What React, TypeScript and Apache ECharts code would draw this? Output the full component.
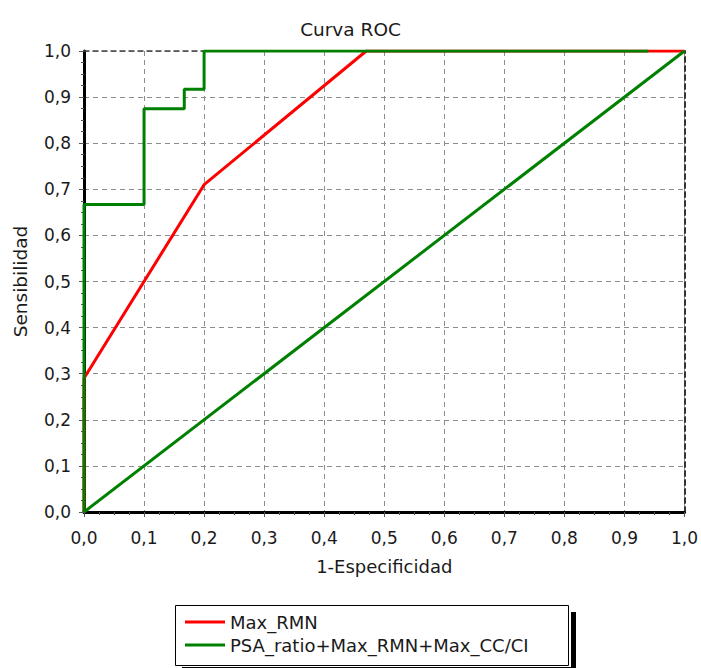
import React, { useEffect, useRef } from "react";
import * as echarts from "echarts";

const redX = [0, 0, 0.2, 0.47, 1];
const redY = [0, 0.29, 0.71, 1.0, 1.0];
const greenX = [0, 0, 0.1, 0.1, 0.167, 0.167, 0.2, 0.2, 0.94];
const greenY = [0, 0.667, 0.667, 0.875, 0.875, 0.917, 0.917, 1.0, 1.0];
const diagX = [0, 1];
const diagY = [0, 1];
const seriesNames = ["Max_RMN", "PSA_ratio+Max_RMN+Max_CC/CI"];
const titleText = "Curva ROC";
const xName = "1-Especificidad";
const yName = "Sensibilidad";

const FONT = "'DejaVu Sans', 'Liberation Sans', Arial, sans-serif";
const fmt = (v: number) => v.toFixed(1).replace(".", ",");
const zip = (xs: number[], ys: number[]) => xs.map((x, i) => [x, ys[i]]);

export default function App() {
  const ref = useRef<HTMLDivElement>(null);
  useEffect(() => {
    if (!ref.current) return;
    const chart = echarts.init(ref.current, null, { renderer: "svg" });
    const baseAxis = {
      type: "value" as const,
      min: 0,
      max: 1,
      interval: 0.1,
    };
    chart.setOption({
      animation: false,
      backgroundColor: "#ffffff",
      textStyle: { fontFamily: FONT },
      title: {
        text: titleText,
        left: "center",
        top: 15,
        textStyle: { fontSize: 18.5, fontWeight: "normal", color: "#1a1a1a", fontFamily: FONT },
      },
      grid: { left: 84, right: 15, top: 51, bottom: 156 },
      xAxis: [
        {
          ...baseAxis,
          position: "bottom",
          name: xName,
          nameLocation: "middle",
          nameGap: 45,
          nameTextStyle: { fontSize: 18, color: "#1a1a1a", fontFamily: FONT },
          axisLine: { show: true, onZero: false, lineStyle: { color: "#000", width: 3 } },
          axisTick: { show: true, length: 5, lineStyle: { color: "#555", width: 1 } },
          minorTick: { show: true, splitNumber: 4, length: 3, lineStyle: { color: "#555" } },
          axisLabel: { formatter: fmt, fontSize: 17, color: "#1a1a1a", margin: 17, fontFamily: FONT },
          splitLine: { show: true, lineStyle: { color: "#8c8c8c", type: [5, 4], width: 1 } },
        },
        {
          ...baseAxis,
          position: "top",
          axisLine: { show: true, onZero: false, lineStyle: { color: "#444", width: 1.5, type: [5, 4] } },
          axisTick: { show: false },
          axisLabel: { show: false },
          splitLine: { show: false },
        },
      ],
      yAxis: [
        {
          ...baseAxis,
          position: "left",
          name: yName,
          nameLocation: "middle",
          nameGap: 54,
          nameRotate: 90,
          nameTextStyle: { fontSize: 18.5, color: "#1a1a1a", fontFamily: FONT },
          axisLine: { show: true, onZero: false, lineStyle: { color: "#000", width: 3 } },
          axisTick: { show: true, length: 5, lineStyle: { color: "#555", width: 1 } },
          minorTick: { show: true, splitNumber: 4, length: 3, lineStyle: { color: "#555" } },
          axisLabel: { formatter: fmt, fontSize: 17, color: "#1a1a1a", margin: 13, fontFamily: FONT },
          splitLine: { show: true, lineStyle: { color: "#8c8c8c", type: [5, 4], width: 1 } },
        },
        {
          ...baseAxis,
          position: "right",
          axisLine: { show: true, onZero: false, lineStyle: { color: "#333", width: 2, type: [5, 4] } },
          axisTick: { show: false },
          axisLabel: { show: false },
          splitLine: { show: false },
        },
      ],
      legend: {
        orient: "vertical",
        left: 175,
        top: 605,
        data: seriesNames,
        icon: "rect",
        itemWidth: 40,
        itemHeight: 3,
        itemGap: 5,
        padding: [8, 30, 9, 10],
        backgroundColor: "transparent",
        borderWidth: 0,
        textStyle: { fontSize: 18, color: "#1a1a1a", fontFamily: FONT },
        z: 10,
      },
      graphic: [
        {
          type: "rect",
          left: 571,
          top: 612,
          shape: { width: 5, height: 60 },
          style: { fill: "#000" },
          z: 5,
          silent: true,
        },
        {
          type: "rect",
          left: 182,
          top: 667,
          shape: { width: 394, height: 5 },
          style: { fill: "#000" },
          z: 5,
          silent: true,
        },
        {
          type: "rect",
          left: 175,
          top: 605,
          shape: { width: 393, height: 60 },
          style: { fill: "#fff", stroke: "#000", lineWidth: 1 },
          z: 6,
          silent: true,
        },
      ],
      series: [
        {
          name: seriesNames[0],
          type: "line",
          data: zip(redX, redY),
          symbol: "none",
          lineStyle: { color: "#ff0000", width: 3 },
          itemStyle: { color: "#ff0000" },
          z: 2,
        },
        {
          name: seriesNames[1],
          type: "line",
          data: zip(greenX, greenY),
          symbol: "none",
          lineStyle: { color: "#008000", width: 3 },
          itemStyle: { color: "#008000" },
          z: 3,
        },
        {
          name: "diagonal",
          type: "line",
          data: zip(diagX, diagY),
          symbol: "none",
          lineStyle: { color: "#008000", width: 3 },
          itemStyle: { color: "#008000" },
          z: 3,
        },
      ],
    });
    return () => chart.dispose();
  }, []);
  return <div ref={ref} style={{ width: 701, height: 668, position: "absolute", left: 0, top: 0 }} />;
}
